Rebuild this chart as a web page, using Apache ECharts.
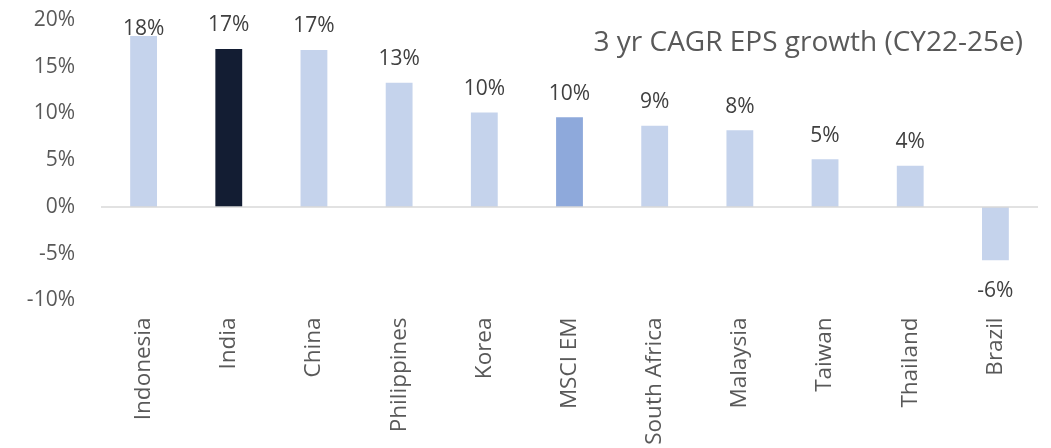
<!DOCTYPE html>
<html>
<head>
<meta charset="utf-8">
<script src="https://cdn.jsdelivr.net/npm/echarts@6/dist/echarts.min.js"></script>
<style>
  html, body { margin: 0; padding: 0; background: #ffffff; }
  #chart { width: 1051px; height: 448px; }
</style>
</head>
<body>
<div id="chart"></div>
<script>
// 3-year CAGR of EPS, CY22-25e, in percent
const markets = ['Indonesia', 'India', 'China', 'Philippines', 'Korea', 'MSCI EM',
                 'South Africa', 'Malaysia', 'Taiwan', 'Thailand', 'Brazil'];
const epsCagr = [18.3, 16.9, 16.8, 13.3, 10.1, 9.6, 8.7, 8.2, 5.1, 4.4, -5.7];
const yTicks = [-10, -5, 0, 5, 10, 15, 20];
const chartTitle = '3 yr CAGR EPS growth (CY22-25e)';

const FONT = '"Open Sans", "Noto Sans", sans-serif';
const baseColor = '#C5D3EC';
const accent = { 'India': '#131D33', 'MSCI EM': '#8EA9DB' };

const barData = epsCagr.map((v, i) => {
  const item = { value: v, itemStyle: { color: accent[markets[i]] || baseColor } };
  if (v < 0) {
    item.label = { position: 'bottom', distance: 20 };
  } else if (v > 18) {
    // keep the top label inside the plot
    item.label = { offset: [0, 17] };
  }
  return item;
});

const chart = echarts.init(document.getElementById('chart'), null, { renderer: 'canvas' });
chart.setOption({
  animation: false,
  backgroundColor: '#ffffff',
  title: {
    text: chartTitle,
    right: 23,
    top: 24,
    textStyle: { fontFamily: FONT, fontSize: 28, fontWeight: 'normal', color: '#595959' }
  },
  grid: { left: 101, right: 13, top: 20, bottom: 147.5 },
  xAxis: {
    type: 'category',
    data: markets,
    axisLine: { show: false },
    axisTick: { show: false },
    axisLabel: {
      rotate: 90,
      margin: 17,
      interval: 0,
      fontFamily: FONT,
      fontSize: 22.5,
      color: '#595959'
    }
  },
  yAxis: {
    type: 'value',
    min: yTicks[0],
    max: yTicks[yTicks.length - 1],
    interval: 5,
    axisLine: { show: false },
    axisTick: { show: false },
    splitLine: { show: false },
    axisLabel: {
      margin: 26,
      fontFamily: FONT,
      fontSize: 21,
      color: '#595959',
      formatter: v => v + '%'
    }
  },
  series: [{
    type: 'bar',
    data: barData,
    barWidth: '31.5%',
    label: {
      show: true,
      position: 'top',
      distance: 13,
      fontFamily: FONT,
      fontSize: 21,
      color: '#404040',
      formatter: p => Math.round(p.value) + '%'
    },
    markLine: {
      silent: true,
      symbol: 'none',
      label: { show: false },
      lineStyle: { color: '#D9D9D9', width: 1.5, type: 'solid' },
      data: [{ yAxis: 0 }]
    },
    z: 2
  }]
});
</script>
</body>
</html>
